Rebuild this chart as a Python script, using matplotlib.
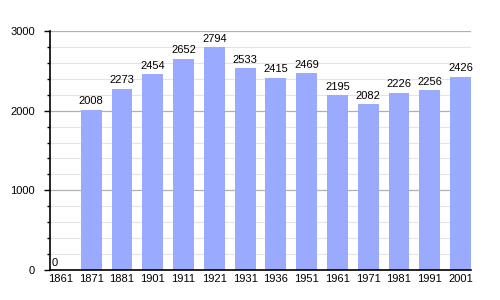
import matplotlib
matplotlib.use("Agg")
import matplotlib.pyplot as plt
from matplotlib.ticker import MultipleLocator

years = ["1861", "1871", "1881", "1901", "1911", "1921", "1931", "1936",
         "1951", "1961", "1971", "1981", "1991", "2001"]
population = [0, 2008, 2273, 2454, 2652, 2794, 2533, 2415, 2469, 2195,
              2082, 2226, 2256, 2426]

plt.rcParams['font.family'] = ['Liberation Sans', 'DejaVu Sans']

fig = plt.figure(figsize=(5, 3), dpi=100)
ax = fig.add_axes([0.1, 0.1, 0.842, 0.7967])

x = list(range(len(years)))
ax.set_axisbelow(True)
ax.bar(x, population, width=0.68, color='#99aaff', zorder=2)
for xi, v in zip(x, population):
    if v == 0:
        ax.text(xi - 0.3, v + 20, str(v), ha='left', va='bottom', fontsize=8, color='black')
    else:
        ax.text(xi, v + 45, str(v), ha='center', va='bottom', fontsize=8, color='black')

ax.set_xlim(-0.34, 13.34)
ax.set_ylim(0, 3000)
ax.set_xticks(x)
ax.set_xticklabels(years, fontsize=8)
ax.tick_params(axis='x', length=0, pad=3)
ax.yaxis.set_major_locator(MultipleLocator(1000))
ax.yaxis.set_minor_locator(MultipleLocator(200))
ax.tick_params(axis='y', which='major', length=4, width=1, labelsize=8, pad=7)
ax.tick_params(axis='y', which='minor', length=2, width=1)
ax.grid(axis='y', which='major', color='#b0b0b0', linewidth=0.9)
ax.grid(axis='y', which='minor', color='#e4e4e4', linewidth=0.8)

for s in ['top', 'right']:
    ax.spines[s].set_visible(False)
ax.spines['left'].set_linewidth(1.2)
ax.spines['bottom'].set_linewidth(1.2)

fig.savefig('out.png', dpi=100)
